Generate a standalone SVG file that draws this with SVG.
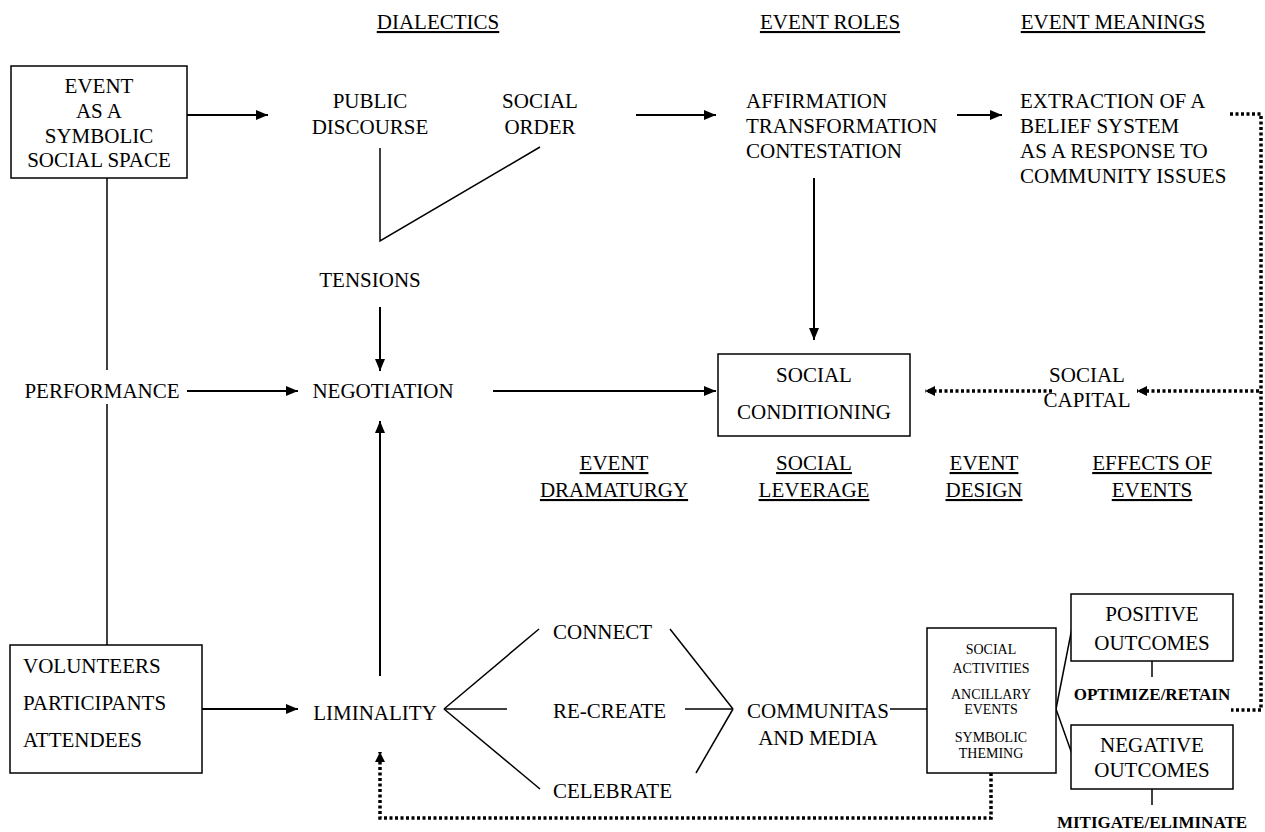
<svg xmlns="http://www.w3.org/2000/svg" width="1265" height="832" viewBox="0 0 1265 832" font-family="'Liberation Serif', 'Times New Roman', 'DejaVu Serif', serif">
<defs>
<marker id="arr" markerWidth="12" markerHeight="10" refX="12" refY="5" orient="auto" markerUnits="userSpaceOnUse"><path d="M0,0 L12,5 L0,10 Z" fill="#000"/></marker>
<marker id="arrs" markerWidth="10" markerHeight="10" refX="10" refY="5" orient="auto" markerUnits="userSpaceOnUse"><path d="M0,0 L10,5 L0,10 Z" fill="#000"/></marker>
<style>
text{font-family:'Liberation Serif','Times New Roman','DejaVu Serif',serif;font-size:21px;fill:#000}
.c{text-anchor:middle}
.u{text-decoration:underline}
.s{font-size:14px}
.b{font-size:17px;font-weight:bold}
.box{fill:#fff;stroke:#000;stroke-width:1.5}
.ln{fill:none;stroke:#000;stroke-width:1.5}
.ar{fill:none;stroke:#000;stroke-width:2;marker-end:url(#arr)}
.dt{fill:none;stroke:#000;stroke-width:3.5;stroke-dasharray:3 2.5}
.dta{fill:none;stroke:#000;stroke-width:3.5;stroke-dasharray:3 2.5;marker-end:url(#arrs)}
</style>
</defs>
<rect width="1265" height="832" fill="#fff"/>

<g id="headers">
<text class="c u" x="438" y="29">DIALECTICS</text>
<text class="c u" x="830" y="29">EVENT ROLES</text>
<text class="c u" x="1113" y="29">EVENT MEANINGS</text>
<text class="c u" x="614" y="470">EVENT</text>
<text class="c u" x="614" y="497">DRAMATURGY</text>
<text class="c u" x="814" y="470">SOCIAL</text>
<text class="c u" x="814" y="497">LEVERAGE</text>
<text class="c u" x="984" y="470">EVENT</text>
<text class="c u" x="984" y="497">DESIGN</text>
<text class="c u" x="1152" y="470">EFFECTS OF</text>
<text class="c u" x="1152" y="497">EVENTS</text>
</g>

<g id="connectors">
<line class="ar" x1="187" y1="115" x2="268" y2="115"/>
<line class="ln" x1="107" y1="178" x2="107" y2="370"/>
<line class="ln" x1="107" y1="404" x2="107" y2="645"/>
<line class="ar" x1="187" y1="391" x2="298" y2="391"/>
<polyline class="ln" points="380,148 380,241 540,147"/>
<line class="ar" x1="380" y1="307" x2="380" y2="371"/>
<line class="ar" x1="493" y1="391" x2="716" y2="391"/>
<line class="ar" x1="636" y1="115" x2="716" y2="115"/>
<line class="ar" x1="957" y1="115" x2="1002" y2="115"/>
<line class="ar" x1="814" y1="178" x2="814" y2="340"/>
<polyline class="dt" points="1230,114 1261,114 1261,710 1231,710"/>
<line class="dta" x1="1259" y1="391" x2="1137" y2="391"/>
<line class="dta" x1="1052" y1="391" x2="925" y2="391"/>
<line class="ar" x1="380" y1="676" x2="380" y2="421"/>
<line class="ar" x1="202" y1="709" x2="298" y2="709"/>
<line class="ln" x1="444" y1="709" x2="539" y2="629"/>
<line class="ln" x1="444" y1="709" x2="507" y2="709"/>
<line class="ln" x1="444" y1="709" x2="540" y2="789"/>
<line class="ln" x1="670" y1="629" x2="733" y2="709"/>
<line class="ln" x1="685" y1="709" x2="733" y2="709"/>
<line class="ln" x1="696" y1="773" x2="733" y2="709"/>
<line class="ln" x1="890" y1="709" x2="927" y2="709"/>
<line class="ln" x1="1056" y1="709" x2="1072" y2="628"/>
<line class="ln" x1="1056" y1="709" x2="1072" y2="754"/>
<line class="ln" x1="1152" y1="661" x2="1152" y2="677"/>
<line class="ln" x1="1152" y1="789" x2="1152" y2="805"/>
<polyline class="dta" points="991,773 991,818 380,818 380,752"/>
</g>

<g id="n-event-space">
<rect class="box" x="11" y="66" width="176" height="112"/>
<text class="c" x="99" y="93">EVENT</text>
<text class="c" x="99" y="118">AS A</text>
<text class="c" x="99" y="143">SYMBOLIC</text>
<text class="c" x="99" y="167">SOCIAL SPACE</text>
</g>
<g id="n-public-discourse">
<text class="c" x="370" y="108">PUBLIC</text>
<text class="c" x="370" y="134">DISCOURSE</text>
</g>
<g id="n-social-order">
<text class="c" x="540" y="108">SOCIAL</text>
<text class="c" x="540" y="134">ORDER</text>
</g>
<g id="n-tensions"><text class="c" x="370" y="287">TENSIONS</text></g>
<g id="n-negotiation"><text class="c" x="383" y="398">NEGOTIATION</text></g>
<g id="n-performance"><text class="c" x="102" y="398">PERFORMANCE</text></g>
<g id="n-roles">
<text x="746" y="108">AFFIRMATION</text>
<text x="746" y="133">TRANSFORMATION</text>
<text x="746" y="158">CONTESTATION</text>
</g>
<g id="n-meanings">
<text x="1020" y="108">EXTRACTION OF A</text>
<text x="1020" y="133">BELIEF SYSTEM</text>
<text x="1020" y="158">AS A RESPONSE TO</text>
<text x="1020" y="183">COMMUNITY ISSUES</text>
</g>
<g id="n-social-conditioning">
<rect class="box" x="718" y="354" width="192" height="82"/>
<text class="c" x="814" y="382">SOCIAL</text>
<text class="c" x="814" y="419">CONDITIONING</text>
</g>
<g id="n-social-capital">
<text class="c" x="1087" y="382">SOCIAL</text>
<text class="c" x="1087" y="407">CAPITAL</text>
</g>
<g id="n-volunteers">
<rect class="box" x="10" y="645" width="192" height="128"/>
<text x="23" y="673">VOLUNTEERS</text>
<text x="23" y="710">PARTICIPANTS</text>
<text x="23" y="747">ATTENDEES</text>
</g>
<g id="n-liminality"><text class="c" x="375" y="720">LIMINALITY</text></g>
<g id="n-connect"><text x="553" y="639">CONNECT</text></g>
<g id="n-recreate"><text x="553" y="718">RE-CREATE</text></g>
<g id="n-celebrate"><text x="553" y="798">CELEBRATE</text></g>
<g id="n-communitas">
<text class="c" x="818" y="718">COMMUNITAS</text>
<text class="c" x="818" y="745">AND MEDIA</text>
</g>
<g id="n-event-design">
<rect class="box" x="927" y="628" width="129" height="145"/>
<text class="c s" x="991" y="654">SOCIAL</text>
<text class="c s" x="991" y="673">ACTIVITIES</text>
<text class="c s" x="991" y="699">ANCILLARY</text>
<text class="c s" x="991" y="714">EVENTS</text>
<text class="c s" x="991" y="742">SYMBOLIC</text>
<text class="c s" x="991" y="758">THEMING</text>
</g>
<g id="n-positive">
<rect class="box" x="1071" y="594" width="162" height="67"/>
<text class="c" x="1152" y="621">POSITIVE</text>
<text class="c" x="1152" y="650">OUTCOMES</text>
<text class="c b" x="1152" y="700">OPTIMIZE/RETAIN</text>
</g>
<g id="n-negative">
<rect class="box" x="1071" y="725" width="162" height="64"/>
<text class="c" x="1152" y="752">NEGATIVE</text>
<text class="c" x="1152" y="777">OUTCOMES</text>
<text class="c b" x="1152" y="828">MITIGATE/ELIMINATE</text>
</g>
</svg>
